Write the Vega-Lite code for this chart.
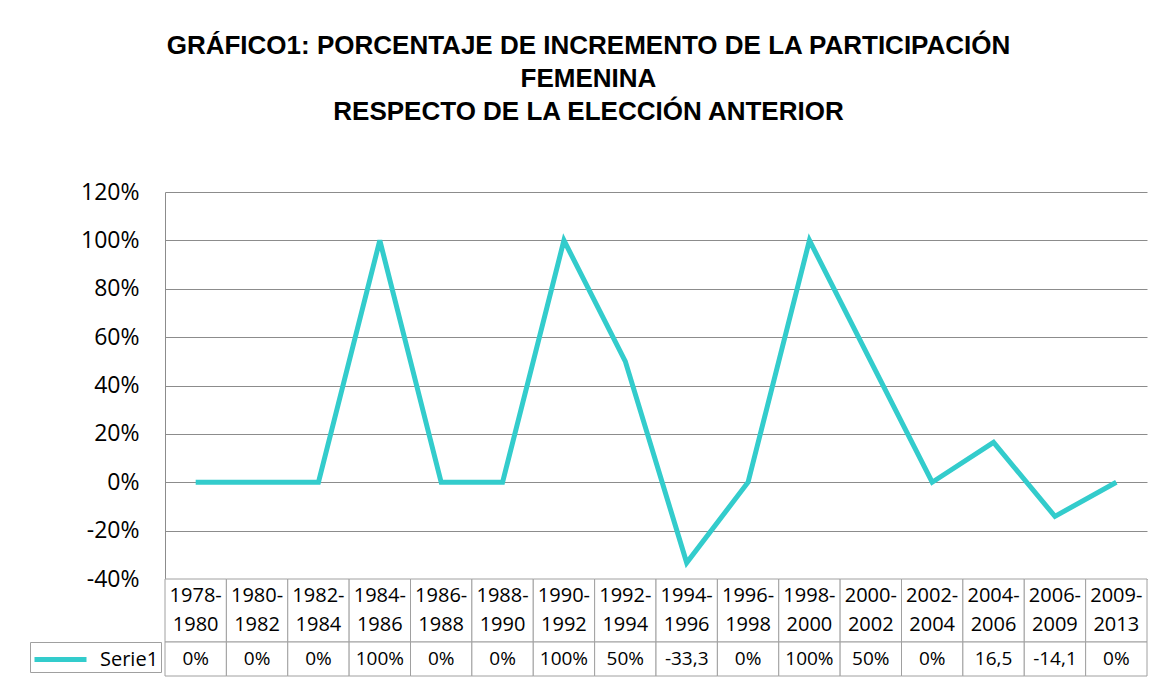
{
  "$schema": "https://vega.github.io/schema/vega-lite/v6.json",
  "padding": {"left": 29, "top": 33, "right": 13, "bottom": 5},
  "background": "white",
  "title": {
    "text": ["GRÁFICO1: PORCENTAJE DE INCREMENTO DE LA PARTICIPACIÓN", "FEMENINA", "RESPECTO DE LA ELECCIÓN  ANTERIOR"],
    "font": "Liberation Sans",
    "fontSize": 26,
    "fontWeight": "bold",
    "color": "#000000",
    "lineHeight": 33,
    "anchor": "middle",
    "offset": 56
  },
  "data": {
    "values": [
      {"periodo": "1978-1980", "cabecera": "1978-\n1980", "valor": 0, "etiqueta": "0%"},
      {"periodo": "1980-1982", "cabecera": "1980-\n1982", "valor": 0, "etiqueta": "0%"},
      {"periodo": "1982-1984", "cabecera": "1982-\n1984", "valor": 0, "etiqueta": "0%"},
      {"periodo": "1984-1986", "cabecera": "1984-\n1986", "valor": 1, "etiqueta": "100%"},
      {"periodo": "1986-1988", "cabecera": "1986-\n1988", "valor": 0, "etiqueta": "0%"},
      {"periodo": "1988-1990", "cabecera": "1988-\n1990", "valor": 0, "etiqueta": "0%"},
      {"periodo": "1990-1992", "cabecera": "1990-\n1992", "valor": 1, "etiqueta": "100%"},
      {"periodo": "1992-1994", "cabecera": "1992-\n1994", "valor": 0.5, "etiqueta": "50%"},
      {"periodo": "1994-1996", "cabecera": "1994-\n1996", "valor": -0.333, "etiqueta": "-33,3"},
      {"periodo": "1996-1998", "cabecera": "1996-\n1998", "valor": 0, "etiqueta": "0%"},
      {"periodo": "1998-2000", "cabecera": "1998-\n2000", "valor": 1, "etiqueta": "100%"},
      {"periodo": "2000-2002", "cabecera": "2000-\n2002", "valor": 0.5, "etiqueta": "50%"},
      {"periodo": "2002-2004", "cabecera": "2002-\n2004", "valor": 0, "etiqueta": "0%"},
      {"periodo": "2004-2006", "cabecera": "2004-\n2006", "valor": 0.165, "etiqueta": "16,5"},
      {"periodo": "2006-2009", "cabecera": "2006-\n2009", "valor": -0.141, "etiqueta": "-14,1"},
      {"periodo": "2009-2013", "cabecera": "2009-\n2013", "valor": 0, "etiqueta": "0%"}
    ]
  },
  "bounds": "flush",
  "spacing": 0,
  "resolve": {"legend": {"color": "independent"}},
  "vconcat": [
    {
      "width": 982,
      "height": 387,
      "mark": {"type": "line", "strokeWidth": 5},
      "encoding": {
        "x": {
          "field": "periodo",
          "type": "nominal",
          "sort": null,
          "scale": {"paddingInner": 0, "paddingOuter": 0},
          "axis": null
        },
        "y": {
          "field": "valor",
          "type": "quantitative",
          "scale": {"domain": [-0.4, 1.2], "nice": false, "zero": false},
          "axis": {
            "title": null,
            "labelExpr": "round(datum.value * 100) + '%'",
            "values": [-0.4, -0.2, 0, 0.2, 0.4, 0.6, 0.8, 1, 1.2],
            "ticks": false,
            "labelPadding": 26,
            "labelFont": "Open Sans",
            "labelFontSize": 23,
            "labelColor": "#000000",
            "gridColor": "#8c8c8c",
            "domainColor": "#8c8c8c"
          }
        },
        "color": {
          "datum": "Serie1",
          "type": "nominal",
          "scale": {"range": ["#33CCCC"]},
          "legend": {
            "title": null,
            "orient": "none",
            "legendX": -135,
            "legendY": 450,
            "symbolType": "M-1,0H3",
            "symbolStrokeWidth": 5,
            "symbolSize": 676,
            "labelFont": "Open Sans",
            "labelFontSize": 20,
            "labelColor": "#000000",
            "labelOffset": 37,
            "strokeColor": "#a0a0a0",
            "padding": 2
          }
        }
      }
    },
    {
      "width": 982,
      "height": 63,
      "layer": [
        {
          "mark": {"type": "rect", "fill": "white", "stroke": "#a0a0a0", "strokeWidth": 1},
          "encoding": {
            "x": {"field": "periodo", "type": "nominal", "sort": null, "scale": {"paddingInner": 0, "paddingOuter": 0}, "axis": null}
          }
        },
        {
          "mark": {"type": "text", "font": "Open Sans", "fontSize": 20, "color": "#000000", "baseline": "middle", "lineBreak": "\n", "lineHeight": 29, "dy": -14.5},
          "encoding": {
            "x": {"field": "periodo", "type": "nominal", "sort": null, "axis": null},
            "text": {"field": "cabecera"}
          }
        }
      ]
    },
    {
      "width": 982,
      "height": 34,
      "layer": [
        {
          "mark": {"type": "rect", "fill": "white", "stroke": "#a0a0a0", "strokeWidth": 1},
          "encoding": {
            "x": {"field": "periodo", "type": "nominal", "sort": null, "scale": {"paddingInner": 0, "paddingOuter": 0}, "axis": null}
          }
        },
        {
          "mark": {"type": "text", "font": "Open Sans", "fontSize": 19, "color": "#000000", "baseline": "middle"},
          "encoding": {
            "x": {"field": "periodo", "type": "nominal", "sort": null, "axis": null},
            "text": {"field": "etiqueta"}
          }
        }
      ]
    }
  ],
  "config": {
    "view": {"stroke": null}
  }
}
